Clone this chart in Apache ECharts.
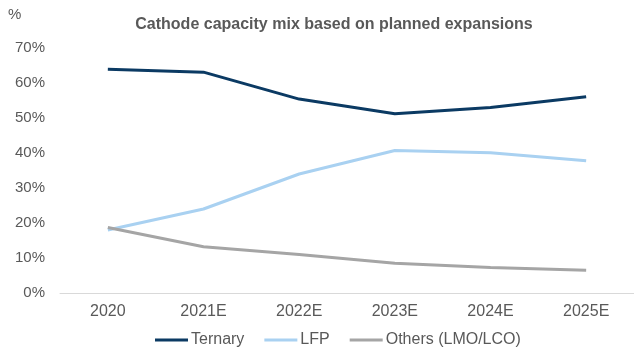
<!DOCTYPE html>
<html>
<head>
<meta charset="utf-8">
<script src="https://cdn.jsdelivr.net/npm/echarts@6/dist/echarts.min.js"></script>
<style>
  html, body { margin: 0; padding: 0; background: #fff; }
  #chart { width: 634px; height: 352px; }
</style>
</head>
<body>
<div id="chart"></div>
<script>
const years = ['2020', '2021E', '2022E', '2023E', '2024E', '2025E']
const ternary = [63.9, 63.1, 55.4, 51.2, 53.0, 56.1]
const lfp = [18.0, 24.0, 34.0, 40.7, 40.1, 37.8]
const others = [18.7, 13.2, 11.0, 8.5, 7.3, 6.5]

const textColor = '#595959'
const font = 'Liberation Sans, Arial, sans-serif'

const chart = echarts.init(document.getElementById('chart'))

const makeLine = (name, data, color) => ({
  name,
  type: 'line',
  data,
  symbol: 'none',
  lineStyle: { color, width: 3 },
  itemStyle: { color }
})

chart.setOption({
  animation: false,
  textStyle: { fontFamily: font },
  title: {
    text: 'Cathode capacity mix based on planned expansions',
    left: 329,
    textAlign: 'center',
    top: 12,
    textStyle: { color: textColor, fontSize: 16, fontWeight: 'bold', fontFamily: font }
  },
  legend: {
    bottom: -1,
    left: 150,
    icon: 'rect',
    itemWidth: 33,
    itemHeight: 3,
    itemGap: 20,
    textStyle: { color: textColor, fontSize: 16, fontFamily: font, padding: [0, 0, 0, -2] },
    data: ['Ternary', 'LFP', 'Others (LMO/LCO)']
  },
  grid: { left: 60, right: -8, top: 48, bottom: 59 },
  xAxis: {
    type: 'category',
    data: years,
    boundaryGap: true,
    axisLine: { lineStyle: { color: '#d9d9d9', width: 1 } },
    axisTick: { show: false },
    axisLabel: { color: textColor, fontSize: 16, margin: 11, fontFamily: font }
  },
  yAxis: {
    type: 'value',
    min: 0,
    max: 70,
    interval: 10,
    name: '%',
    nameLocation: 'end',
    nameGap: 0,
    nameTextStyle: { color: textColor, fontSize: 15, align: 'left', padding: [0, 0, 26, -52], fontFamily: font },
    axisLine: { show: false },
    axisTick: { show: false },
    splitLine: { show: false },
    axisLabel: { color: textColor, fontSize: 15, margin: 15, formatter: v => v + '%', fontFamily: font }
  },
  series: [
    makeLine('Ternary', ternary, '#0b3a63'),
    makeLine('LFP', lfp, '#a9d1f1'),
    makeLine('Others (LMO/LCO)', others, '#a5a5a5')
  ]
})
</script>
</body>
</html>
